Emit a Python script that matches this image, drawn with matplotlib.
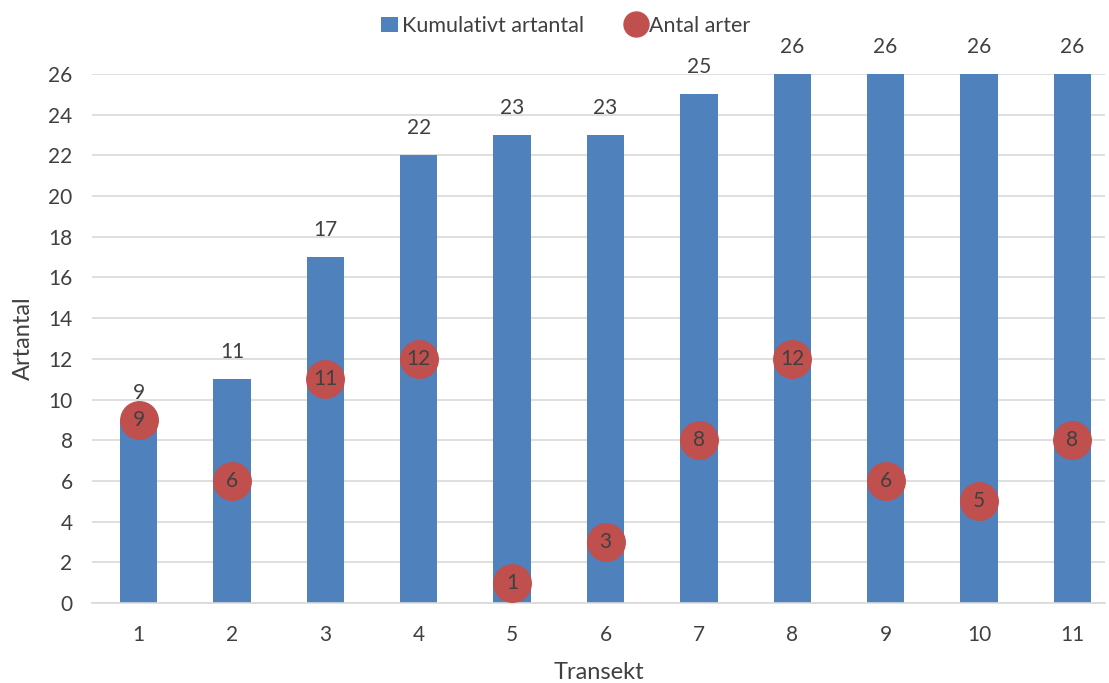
import matplotlib.pyplot as plt
import numpy as np
from matplotlib.lines import Line2D
from matplotlib.patches import Patch

plt.rcParams['font.family'] = ['Lato', 'DejaVu Sans']

transekt = ['1', '2', '3', '4', '5', '6', '7', '8', '9', '10', '11']
kumulativt = [9, 11, 17, 22, 23, 23, 25, 26, 26, 26, 26]
antal_arter = [9, 6, 11, 12, 1, 3, 8, 12, 6, 5, 8]

bar_color = '#4F81BD'
dot_color = '#C0504D'
text_color = '#404040'
grid_color = '#D9D9D9'

fig = plt.figure(figsize=(11.09, 6.83), dpi=100)
ax = fig.add_axes([92 / 1109, 1 - 603 / 683, (1105 - 92) / 1109, (603 - 74) / 683])

x = np.arange(len(transekt))
ax.bar(x, kumulativt, width=0.4, color=bar_color, zorder=2)
for xi, v in zip(x, kumulativt):
    ax.text(xi, v + 0.85, str(v), ha='center', va='bottom', fontsize=15,
            color=text_color, clip_on=False)

ax.plot(x, antal_arter, linestyle='none', marker='o', markersize=27,
        color=dot_color, zorder=3, clip_on=False)
for xi, v in zip(x, antal_arter):
    ax.text(xi, v, str(v), ha='center', va='center', fontsize=15,
            color=text_color, zorder=4)

ax.set_xlim(-0.5, 10.35)
ax.set_ylim(0, 26)
ax.set_yticks(range(0, 27, 2))
ax.set_xticks(x)
ax.set_xticklabels(transekt)
ax.tick_params(axis='both', length=0, labelsize=15, labelcolor=text_color)
ax.tick_params(axis='x', pad=16)
ax.tick_params(axis='y', pad=14)
ax.yaxis.grid(True, color=grid_color, linewidth=1.2, zorder=0)
ax.set_axisbelow(True)
for s in ['top', 'right', 'left']:
    ax.spines[s].set_visible(False)
ax.spines['bottom'].set_color(grid_color)
ax.spines['bottom'].set_linewidth(1.2)

ax.set_xlabel('Transekt', fontsize=17, color=text_color, labelpad=12)
ax.set_ylabel('Artantal', fontsize=17, color=text_color, labelpad=10)

handles = [
    Patch(facecolor=bar_color, label='Kumulativt artantal'),
    Line2D([], [], linestyle='none', marker='o', markersize=18,
           color=dot_color, label='Antal arter'),
]
fig.legend(handles=handles, loc='upper center', bbox_to_anchor=(0.51, 1.005),
           ncol=2, frameon=False, fontsize=15.5, labelcolor=text_color,
           handlelength=0.8, handletextpad=0.2, columnspacing=2.0)

fig.savefig('out.png', dpi=100)
